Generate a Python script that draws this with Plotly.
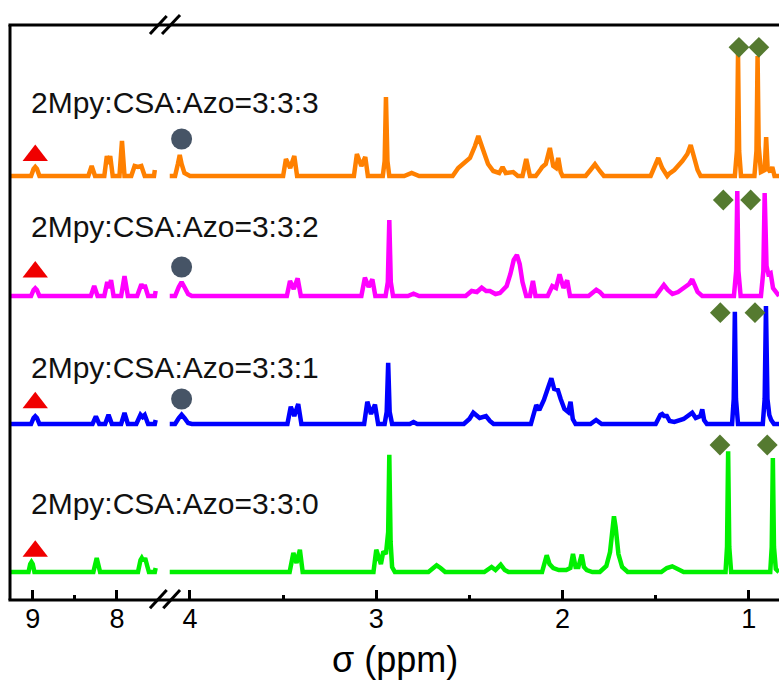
import plotly.graph_objects as go

# ---------------- data (ppm, intensity) ----------------
orange_left_ppm = [9.26, 9.02, 8.99, 8.97, 8.95, 8.92, 8.34, 8.30, 8.26, 8.15, 8.12, 8.10, 8.08, 8.05,
                   7.97, 7.94, 7.91, 7.83, 7.79, 7.75, 7.71, 7.67, 7.56, 7.55]
orange_left_int = [0, 0, 7, 9, 7, 0, 0, 10, 0, 0, 20, 12, 20, 0,
                   0, 35, 0, 0, 10, 9, 10, 0, 0, 6]
orange_right_ppm = [4.11, 4.08, 4.065, 4.055, 4.045, 4.03, 4.00,
                    3.50, 3.485, 3.462, 3.44, 3.425,
                    3.12, 3.104, 3.08, 3.059, 3.045,
                    2.965, 2.955, 2.948, 2.940, 2.93,
                    2.85, 2.81, 2.77,
                    2.59, 2.56, 2.52, 2.497, 2.47, 2.452, 2.43, 2.40, 2.372, 2.34, 2.322, 2.305, 2.265, 2.24,
                    2.215, 2.195, 2.175,
                    2.144, 2.12, 2.109, 2.09, 2.068, 2.05, 2.035, 2.023, 2.01, 2.0,
                    1.876, 1.85, 1.826, 1.80, 1.778,
                    1.527, 1.505, 1.486, 1.465, 1.438,
                    1.429, 1.40, 1.357, 1.33, 1.312, 1.295, 1.275, 1.259,
                    1.075, 1.064, 1.058, 1.052, 1.042,
                    0.97, 0.959, 0.953, 0.947, 0.935, 0.915, 0.907, 0.899, 0.885, 0.874, 0.862, 0.838]
orange_right_int = [0, 0, 12, 21, 12, 3, 0,
                    0, 17, 8, 20, 0,
                    0, 22, 10, 19, 0,
                    0, 15, 79, 15, 0,
                    0, 3, 0,
                    0, 8, 14, 18, 30, 40, 28, 12, 5, 3, 9, 3, 4, 0,
                    0, 17, 0,
                    0, 6, 9, 12, 28, 10, 8, 18, 4, 0,
                    0, 6, 11.7, 5, 0,
                    0, 9, 18, 8, 0,
                    2, 6, 15, 22, 31, 20, 6, 0,
                    0, 25, 122, 25, 0,
                    0, 25, 120, 30, 4, 6, 39, 8, 4, 9, 0, 0]

magenta_left_ppm = [9.26, 9.02, 8.99, 8.97, 8.95, 8.92, 8.31, 8.27, 8.23, 8.15, 8.115, 8.09, 8.07, 8.04,
                    7.95, 7.91, 7.87, 7.76, 7.71, 7.69, 7.67, 7.63, 7.55, 7.54]
magenta_left_int = [0, 0, 6, 7.7, 6, 0, 0, 10, 0, 0, 14, 8, 16, 0,
                    0, 20, 0, 0, 11.7, 8, 11, 0, 0, 5]
magenta_right_ppm = [4.11, 4.08, 4.06, 4.045, 4.03, 4.01, 3.99,
                     3.48, 3.463, 3.443, 3.422, 3.405,
                     3.08, 3.061, 3.041, 3.021, 3.005,
                     2.95, 2.938, 2.930, 2.922, 2.91,
                     2.83, 2.80, 2.77,
                     2.52, 2.488, 2.46, 2.434, 2.41, 2.39, 2.36, 2.336, 2.30, 2.28, 2.262, 2.245, 2.23, 2.215, 2.205, 2.195,
                     2.175, 2.159, 2.145,
                     2.08, 2.055, 2.035, 2.016, 1.995, 1.975, 1.96,
                     1.86, 1.835, 1.819, 1.80, 1.78,
                     1.50, 1.475, 1.456, 1.435, 1.41, 1.38, 1.345, 1.32, 1.304, 1.29, 1.275, 1.25,
                     1.08, 1.068, 1.062, 1.056, 1.044,
                     0.935, 0.922, 0.915, 0.905, 0.895, 0.883, 0.87, 0.85, 0.838]
magenta_right_int = [0, 0, 9, 14, 9, 2, 0,
                     0, 15, 7, 17.7, 0,
                     0, 18.3, 9, 16.7, 0,
                     0, 14, 76, 14, 0,
                     0, 2.3, 0,
                     0, 5, 4, 8.3, 5, 5, 2, 3, 10, 22, 36, 41, 32, 14, 5, 0,
                     0, 15, 0,
                     0, 10, 8, 21.7, 8, 15.7, 0,
                     0, 4, 6.3, 4, 0,
                     0, 6, 11, 6, 2, 4, 8, 12, 16.7, 10, 4, 0,
                     0, 25, 105, 25, 0,
                     0, 25, 103, 30, 22, 23, 8, 2, 0]

blue_left_ppm = [9.26, 9.02, 8.99, 8.97, 8.95, 8.92, 8.29, 8.25, 8.21, 8.14, 8.10, 8.06,
                 7.95, 7.91, 7.87, 7.77, 7.72, 7.695, 7.67, 7.63, 7.55, 7.54]
blue_left_int = [0, 0, 6, 7.7, 6, 0, 0, 7.7, 0, 0, 9.3, 0,
                 0, 11, 0, 0, 9.3, 7, 9, 0, 0, 4]
blue_right_ppm = [4.11, 4.08, 4.06, 4.045, 4.03, 4.01, 3.99,
                  3.477, 3.459, 3.44, 3.419, 3.402,
                  3.065, 3.048, 3.028, 3.007, 2.99,
                  2.955, 2.944, 2.936, 2.928, 2.915,
                  2.82, 2.80, 2.78,
                  2.53, 2.50, 2.479, 2.445, 2.411, 2.39, 2.37,
                  2.17, 2.155, 2.141, 2.125, 2.10, 2.08, 2.060, 2.045, 2.025, 2.01, 1.99, 1.97, 1.957, 1.945, 1.93,
                  1.85, 1.82, 1.79,
                  1.50, 1.475, 1.465, 1.455, 1.44, 1.425, 1.40, 1.35, 1.32, 1.304, 1.285, 1.26, 1.25, 1.24, 1.225,
                  1.09, 1.081, 1.075, 1.069, 1.058,
                  0.925, 0.915, 0.908, 0.900, 0.89, 0.88, 0.865, 0.838]
blue_right_int = [0, 0, 6, 9.3, 6, 1, 0,
                  0, 17.3, 8, 20, 0,
                  0, 22.3, 10, 19.3, 0,
                  0, 12, 61.3, 12, 0,
                  0, 2, 0,
                  0, 5, 11.3, 6, 8, 3, 0,
                  0, 10, 19, 14, 24, 35, 45.7, 35, 34, 25, 15, 12, 22.3, 5, 0,
                  0, 4, 0,
                  0, 9, 10, 8, 8, 3, 2, 5, 9, 11.3, 6, 8, 14.7, 4, 0,
                  0, 25, 112.3, 25, 0,
                  0, 25, 118, 25, 9, 4, 0, 0]

green_left_ppm = [9.26, 9.05, 9.03, 9.015, 9.0, 8.98, 8.28, 8.24, 8.20,
                  7.75, 7.72, 7.705, 7.685, 7.665, 7.64, 7.62, 7.55, 7.54]
green_left_int = [0, 0, 8, 10, 8, 0, 0, 14, 0,
                  0, 12, 14, 11, 14, 6, 0, 0, 4]
green_right_ppm = [4.11, 3.465, 3.445, 3.428, 3.41, 3.395,
                   3.015, 3.0, 2.975, 2.962, 2.948, 2.936, 2.930, 2.923, 2.915, 2.90,
                   2.72, 2.69, 2.676, 2.655, 2.63,
                   2.42, 2.395, 2.381, 2.36, 2.332, 2.31, 2.29,
                   2.11, 2.095, 2.085, 2.07, 2.05, 2.02, 1.98, 1.958, 1.944, 1.93, 1.915, 1.897, 1.885, 1.87, 1.84,
                   1.80, 1.765, 1.745, 1.733, 1.724, 1.715, 1.70, 1.68, 1.65,
                   1.47, 1.44, 1.411, 1.38, 1.35,
                   1.125, 1.117, 1.111, 1.105, 1.095,
                   0.885, 0.877, 0.871, 0.865, 0.855, 0.838]
green_right_int = [0, 0, 19, 9, 22.3, 0,
                   0, 22.3, 8, 20.7, 18, 40, 117.3, 30, 5, 0,
                   0, 5, 6.7, 4, 0,
                   0, 3, 5, 2, 7.3, 2, 0,
                   0, 12, 16.7, 8, 4, 2, 2, 4, 18, 5, 5, 17.3, 5, 2, 0,
                   0, 6, 20, 45, 55.7, 45, 18, 5, 0,
                   0, 4, 5.7, 3, 0,
                   0, 25, 120.7, 25, 0,
                   0, 25, 114, 25, 3, 0]

series_names = ["2Mpy:CSA:Azo=3:3:3", "2Mpy:CSA:Azo=3:3:2", "2Mpy:CSA:Azo=3:3:1", "2Mpy:CSA:Azo=3:3:0"]
series_offsets = [424, 304, 176, 28]
label_levels = [498, 374, 233, 97]

# marker annotations (ppm, intensity)
triangle_ppm = [8.97, 8.97, 8.97, 8.97]
triangle_int = [444.5, 328, 197.3, 48.8]
circle_ppm = [4.045, 4.045, 4.045]
circle_int = [461, 333, 201]
diamond_ppm = [1.053, 0.946, 1.137, 0.990, 1.153, 0.967, 1.155, 0.901]
diamond_int = [552.7, 552.7, 400, 400, 287.3, 287.3, 155, 155]

left_ticks = [9, 8]
left_minor = [8.5]
right_ticks = [4, 3, 2, 1]
right_minor = [3.5, 2.5, 1.5]
x_title = "σ (ppm)"

# ---------------- styling ----------------
colors = ["#FF8000", "#FF00FF", "#0000FF", "#00F000"]
FONT = "Liberation Sans, Arial, sans-serif"

lefts = [(orange_left_ppm, orange_left_int), (magenta_left_ppm, magenta_left_int),
         (blue_left_ppm, blue_left_int), (green_left_ppm, green_left_int)]
rights = [(orange_right_ppm, orange_right_int), (magenta_right_ppm, magenta_right_int),
          (blue_right_ppm, blue_right_int), (green_right_ppm, green_right_int)]

fig = go.Figure()
for (lp, li), (rp, ri), off, col in zip(lefts, rights, series_offsets, colors):
    assert len(lp) == len(li) and len(rp) == len(ri)
    fig.add_trace(go.Scatter(x=lp, y=[v + off for v in li], xaxis="x", yaxis="y", mode="lines",
                             line=dict(color=col, width=4.5), hoverinfo="skip", showlegend=False))
    fig.add_trace(go.Scatter(x=rp, y=[v + off for v in ri], xaxis="x2", yaxis="y", mode="lines",
                             line=dict(color=col, width=4.5), hoverinfo="skip", showlegend=False))

fig.add_trace(go.Scatter(x=triangle_ppm, y=triangle_int, xaxis="x", yaxis="y", mode="markers",
                         marker=dict(symbol="triangle-up", size=22, color="#F00000", line=dict(width=0)),
                         hoverinfo="skip", showlegend=False))
fig.add_trace(go.Scatter(x=circle_ppm, y=circle_int, xaxis="x2", yaxis="y", mode="markers",
                         marker=dict(symbol="circle", size=21, color="#465466", line=dict(width=0)),
                         hoverinfo="skip", showlegend=False))
fig.add_trace(go.Scatter(x=diamond_ppm, y=diamond_int, xaxis="x2", yaxis="y", mode="markers",
                         marker=dict(symbol="diamond", size=16, color="#557A30", line=dict(width=0)),
                         hoverinfo="skip", showlegend=False))

axis_common = dict(ticks="inside", ticklen=10, tickwidth=3, tickcolor="black",
                   showline=False, showgrid=False, zeroline=False, anchor="y",
                   tickfont=dict(family=FONT, size=27, color="black"))

fig.update_layout(
    width=779, height=684,
    margin=dict(l=10, r=0, t=25, b=84),
    paper_bgcolor="white", plot_bgcolor="white",
    showlegend=False,
    xaxis=dict(domain=[0, 0.1938], range=[9.27, 7.5], tickmode="array", tickvals=left_ticks,
               minor=dict(tickmode="array", tickvals=left_minor, ticks="inside", ticklen=5, tickwidth=3,
                          tickcolor="black", showgrid=False),
               **axis_common),
    xaxis2=dict(domain=[0.2074, 1], range=[4.11, 0.838], tickmode="array", tickvals=right_ticks,
                minor=dict(tickmode="array", tickvals=right_minor, ticks="inside", ticklen=5, tickwidth=3,
                           tickcolor="black", showgrid=False),
                **axis_common),
    yaxis=dict(range=[0, 575], visible=False, showgrid=False, zeroline=False),
)

# frame
frame = dict(color="black", width=3)
fig.add_shape(type="line", xref="paper", yref="paper", x0=-0.002, x1=1.0, y0=0, y1=0, line=frame)
fig.add_shape(type="line", xref="paper", yref="paper", x0=0, x1=0, y0=0, y1=1.0, line=frame)
fig.add_shape(type="line", xref="paper", yref="paper", x0=-0.002, x1=1.0, y0=1, y1=1, line=frame)
# axis break marks
for (x0, y0, x1, y1) in [(0.1820, -0.0144, 0.2038, 0.0174), (0.1993, -0.0144, 0.2211, 0.0174),
                         (0.1820, 0.9844, 0.2038, 1.0157), (0.1977, 0.9844, 0.2211, 1.0174)]:
    fig.add_shape(type="line", xref="paper", yref="paper", x0=x0, y0=y0, x1=x1, y1=y1,
                  line=dict(color="black", width=3))

for name, lvl in zip(series_names, label_levels):
    fig.add_annotation(text=name, xref="paper", yref="y", x=0.0247, y=lvl, xanchor="left",
                       yanchor="middle", showarrow=False, font=dict(family=FONT, size=30, color="#111111"))

fig.add_annotation(text=x_title, xref="paper", yref="paper", x=0.5, y=-0.104, xanchor="center",
                   yanchor="middle", showarrow=False, font=dict(family=FONT, size=36, color="black"))

fig.write_html("out.html")
